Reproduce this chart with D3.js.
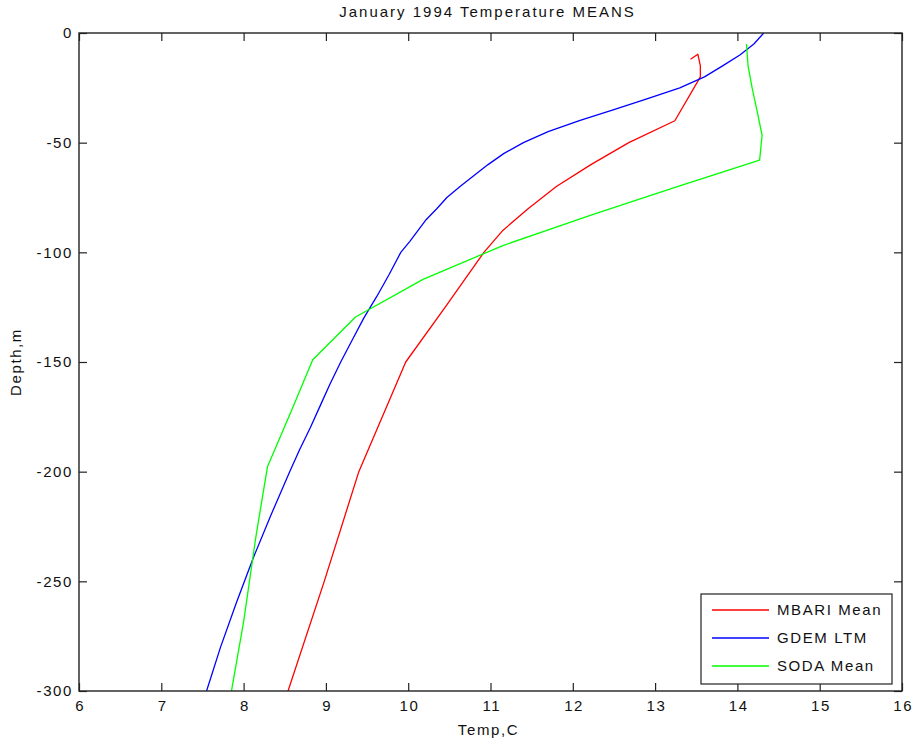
<!DOCTYPE html>
<html>
<head>
<meta charset="utf-8">
<script src="https://cdn.jsdelivr.net/npm/d3@7"></script>
<style>
  html, body { margin: 0; padding: 0; background: #fff; }
  text { font-family: "Liberation Sans", Arial, sans-serif; fill: #111; }
</style>
</head>
<body>
<svg id="chart" width="915" height="748"></svg>
<script>
// ---- data ----
const titleText = "January 1994 Temperature MEANS";
const xLabel = "Temp,C";
const yLabel = "Depth,m";
const xTicks = [6, 7, 8, 9, 10, 11, 12, 13, 14, 15, 16];
const yTicks = [0, -50, -100, -150, -200, -250, -300];
const seriesNames = ["MBARI Mean", "GDEM LTM", "SODA Mean"];
const seriesColors = ["#ff0000", "#0000ff", "#00ff00"];

const mbariTemp  = [13.43, 13.52, 13.55, 13.55, 13.24, 12.68, 12.22, 11.80, 11.46, 11.15, 10.92, 10.45, 9.97, 9.40, 8.98, 8.54];
const mbariDepth = [-12, -9.7, -15, -20, -40, -50, -60, -70, -80, -90, -100, -125, -150, -200, -250, -300];

const gdemTemp  = [14.32, 14.20, 14.03, 13.82, 13.60, 13.30, 12.90, 12.49, 12.08, 11.70, 11.40, 11.16, 10.97, 10.80, 10.63, 10.47, 10.35, 10.22, 10.12, 10.02, 9.91, 9.77, 9.62, 9.46, 9.32, 9.18, 9.05, 8.93, 8.81, 8.68, 8.56, 8.33, 8.11, 7.91, 7.72, 7.55];
const gdemDepth = [0, -5, -10, -15, -20, -25, -30, -35, -40, -45, -50, -55, -60, -65, -70, -75, -80, -85, -90, -95, -100, -110, -120, -130, -140, -150, -160, -170, -180, -190, -200, -220, -240, -260, -280, -300];

const sodaTemp  = [14.11, 14.13, 14.18, 14.24, 14.30, 14.27, 13.27, 12.23, 11.15, 10.18, 9.36, 8.84, 8.59, 8.29, 8.15, 8.00, 7.77];
const sodaDepth = [-5.01, -15.07, -25.28, -35.76, -46.62, -57.98, -70.02, -82.92, -96.92, -112.32, -129.49, -148.96, -171.4, -197.79, -229.48, -268.46, -317.65];

// ---- layout ----
const svg = d3.select("#chart");
const M = { left: 79, right: 902, top: 33, bottom: 691 };
const x = d3.scaleLinear().domain([6, 16]).range([M.left, M.right]);
const y = d3.scaleLinear().domain([0, -300]).range([M.top, M.bottom]);
const axisColor = "#222";
const tickLen = 8;
const fontSize = "15px";
const spacing = "1.6px";
const fmt = d => String(d);

svg.append("defs").append("clipPath").attr("id", "plotclip")
  .append("rect").attr("x", M.left).attr("y", M.top)
  .attr("width", M.right - M.left).attr("height", M.bottom - M.top);

// series
const series = [
  mbariTemp.map((t, i) => [t, mbariDepth[i]]),
  gdemTemp.map((t, i) => [t, gdemDepth[i]]),
  sodaTemp.map((t, i) => [t, sodaDepth[i]])
];
const line = d3.line().x(d => x(d[0])).y(d => y(d[1]));
const g = svg.append("g").attr("clip-path", "url(#plotclip)");
series.forEach((s, i) => {
  g.append("path").datum(s).attr("d", line)
    .attr("fill", "none").attr("stroke", seriesColors[i])
    .attr("stroke-width", 1.3).attr("stroke-linejoin", "round");
});

// axes (inward ticks on all four sides)
function styleAxis(sel) {
  sel.select(".domain").remove();
  sel.selectAll(".tick line").attr("stroke", axisColor).attr("stroke-width", 1.2);
  sel.selectAll(".tick text").attr("font-size", fontSize)
    .style("letter-spacing", spacing).attr("fill", "#111")
    .attr("font-family", "'Liberation Sans', Arial, sans-serif");
}
const axB = svg.append("g").attr("transform", `translate(0,${M.bottom})`)
  .call(d3.axisBottom(x).tickValues(xTicks).tickSize(-tickLen).tickPadding(9).tickFormat(fmt));
styleAxis(axB);
axB.selectAll(".tick text").attr("dx", "0.8px");
const axT = svg.append("g").attr("transform", `translate(0,${M.top})`)
  .call(d3.axisTop(x).tickValues(xTicks).tickSize(-tickLen).tickFormat(""));
styleAxis(axT);
const axL = svg.append("g").attr("transform", `translate(${M.left},0)`)
  .call(d3.axisLeft(y).tickValues(yTicks).tickSize(-tickLen).tickPadding(6).tickFormat(fmt));
styleAxis(axL);
const axR = svg.append("g").attr("transform", `translate(${M.right},0)`)
  .call(d3.axisRight(y).tickValues(yTicks).tickSize(-tickLen).tickFormat(""));
styleAxis(axR);

// frame
svg.append("rect").attr("x", M.left).attr("y", M.top)
  .attr("width", M.right - M.left).attr("height", M.bottom - M.top)
  .attr("fill", "none").attr("stroke", axisColor).attr("stroke-width", 1.4);

// title & labels
svg.append("text").attr("x", (M.left + M.right) / 2 - 3).attr("y", 17)
  .attr("text-anchor", "middle").attr("font-size", "15px").style("letter-spacing", "2px")
  .text(titleText);
svg.append("text").attr("x", (M.left + M.right) / 2 - 2).attr("y", 735)
  .attr("text-anchor", "middle").attr("font-size", fontSize).style("letter-spacing", spacing)
  .text(xLabel);
svg.append("text").attr("transform", `translate(21,${(M.top + M.bottom) / 2}) rotate(-90)`)
  .attr("text-anchor", "middle").attr("font-size", fontSize).style("letter-spacing", spacing)
  .text(yLabel);

// legend
const lg = svg.append("g");
lg.append("rect").attr("x", 701).attr("y", 594).attr("width", 191).attr("height", 90)
  .attr("fill", "#fff").attr("stroke", axisColor).attr("stroke-width", 1.2);
seriesNames.forEach((name, i) => {
  const ly = 610 + i * 28;
  lg.append("line").attr("x1", 712).attr("x2", 769).attr("y1", ly).attr("y2", ly)
    .attr("stroke", seriesColors[i]).attr("stroke-width", 1.3);
  lg.append("text").attr("x", 777).attr("y", ly + 5).attr("font-size", fontSize)
    .style("letter-spacing", spacing).text(name);
});
</script>
</body>
</html>
